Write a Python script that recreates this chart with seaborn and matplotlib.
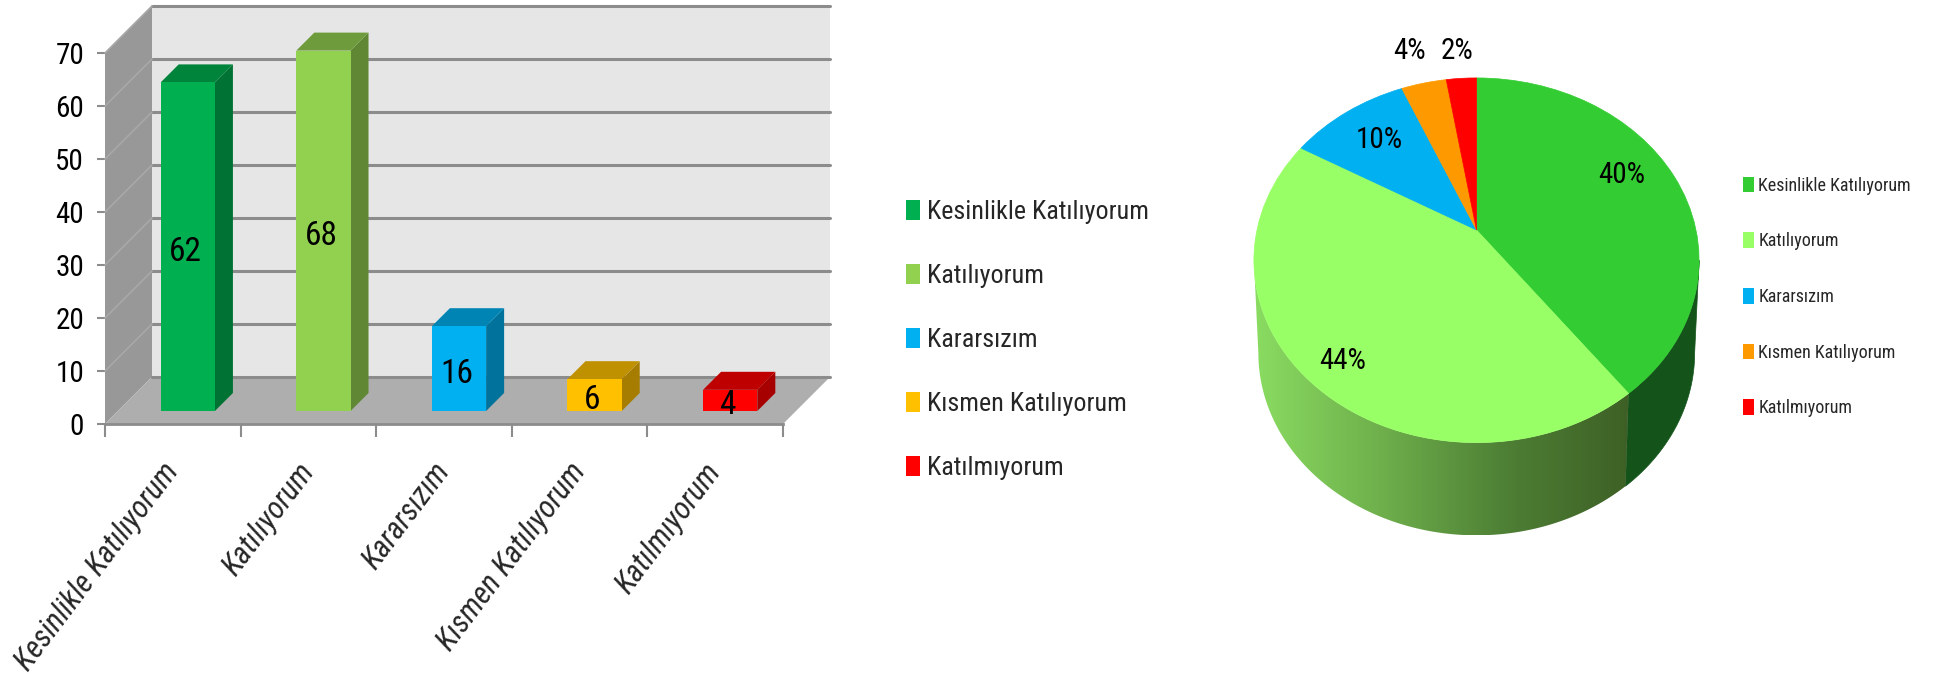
import matplotlib
matplotlib.use('Agg')
import matplotlib.pyplot as plt
import matplotlib.transforms as mtransforms
from matplotlib.colors import LinearSegmentedColormap, to_rgb
from matplotlib.patches import Patch, Polygon, Rectangle
import numpy as np
import pandas as pd
import seaborn as sns

categories = ['Kesinlikle Katılıyorum', 'Katılıyorum', 'Kararsızım', 'Kısmen Katılıyorum', 'Katılmıyorum']
counts = [62, 68, 16, 6, 4]
percents = [40, 44, 10, 4, 2]
y_ticks = [0, 10, 20, 30, 40, 50, 60, 70]
bar_colors = ['#00B050', '#92D050', '#00B0F0', '#FFC000', '#FF0000']
pie_colors = ['#33CC33', '#99FF66', '#00B0F0', '#FF9900', '#FF0000']

W, H = 1939, 690
FONT = ['Roboto Condensed', 'Liberation Sans']

sns.set_style('white')
plt.rcParams['font.family'] = FONT


def px_axes(fig, left, top, right, bottom):
    return fig.add_axes([left / W, 1 - bottom / H, (right - left) / W, (bottom - top) / H])


def shade(color, factor):
    return tuple(c * factor for c in to_rgb(color))


def shifted(ax, dx, dy):
    return ax.transData + mtransforms.Affine2D().translate(dx, dy)


class TiltTransform(mtransforms.Transform):
    # circle seen in perspective, the far side is a bit squeezed
    input_dims = 2
    output_dims = 2
    is_separable = False
    has_inverse = False

    def __init__(self, k):
        super().__init__()
        self.k = k

    def transform_non_affine(self, values):
        values = np.asarray(values, dtype=float)
        w = 1 + self.k * values[:, 1]
        return np.column_stack([values[:, 0] / w, values[:, 1] / w])


fig = plt.figure(figsize=(W / 100, H / 100), dpi=100)

# BAR CHART
ax = px_axes(fig, 105, 53, 783, 424)
df = pd.DataFrame({'category': categories, 'count': counts})
sns.barplot(data=df, x='category', y='count', hue='category', palette=bar_colors, order=categories,
            hue_order=categories, legend=False, width=0.4, saturation=1, linewidth=0, ax=ax, zorder=5)
ax.set_xlim(-0.5, 4.5)
ax.set_ylim(0, 70)
ax.set_xlabel('')
ax.set_ylabel('')

# walls and floor, depth of 47 px
depth = shifted(ax, 47, 47)
back = Rectangle((-0.5, 0), 5, 70, transform=depth, facecolor='#e6e6e6', edgecolor='none', clip_on=False, zorder=0)
ax.add_patch(back)
x0, x1 = -0.5, 4.5
px_x = 5 / 678
px_y = 70 / 371
side_wall = Polygon([(x0, 0), (x0 + 47 * px_x, 47 * px_y), (x0 + 47 * px_x, 70 + 47 * px_y), (x0, 70)],
                    facecolor='#989898', edgecolor='none', clip_on=False, zorder=1)
floor = Polygon([(x0, 0), (x1, 0), (x1 + 47 * px_x, 47 * px_y), (x0 + 47 * px_x, 47 * px_y)],
                facecolor='#aeaeae', edgecolor='none', clip_on=False, zorder=1)
ax.add_patch(side_wall)
ax.add_patch(floor)
for tick in y_ticks:
    ax.plot([x0, x1], [tick, tick], transform=depth, color='#8c8c8c', lw=2.2, clip_on=False, zorder=2)
    if tick > 0:
        ax.plot([x0, x0 + 47 * px_x], [tick, tick + 47 * px_y], color='#a8a8a8', lw=1.2, clip_on=False, zorder=2)

# bars with their side and top faces
bar_dx, bar_dy = 15, 13
bar_depth = 18
for i, patch in enumerate(ax.patches[:len(counts)]):
    color = bar_colors[i]
    px, pw, ph = patch.get_x(), patch.get_width(), patch.get_height()
    patch.set_transform(shifted(ax, bar_dx, bar_dy))
    patch.set_clip_on(False)
    dxd, dyd = bar_depth * px_x, bar_depth * px_y
    side = Polygon([(px + pw, 0), (px + pw + dxd, dyd), (px + pw + dxd, ph + dyd), (px + pw, ph)],
                   transform=shifted(ax, bar_dx, bar_dy), facecolor=shade(color, 0.65), edgecolor='none',
                   clip_on=False, zorder=4)
    top = Polygon([(px, ph), (px + pw, ph), (px + pw + dxd, ph + dyd), (px + dxd, ph + dyd)],
                  transform=shifted(ax, bar_dx, bar_dy), facecolor=shade(color, 0.75), edgecolor='none',
                  clip_on=False, zorder=4)
    ax.add_patch(side)
    ax.add_patch(top)
    ax.text(i, ph / 2, str(counts[i]), transform=shifted(ax, bar_dx - 2, bar_dy - 5), ha='center', va='center',
            fontsize=24, color='black', zorder=6)

for name in ['top', 'right']:
    ax.spines[name].set_visible(False)
ax.spines['left'].set_visible(False)
ax.spines['bottom'].set_color('#8c8c8c')
ax.spines['bottom'].set_linewidth(2)
ax.spines['bottom'].set_zorder(3)
ax.set_yticks(y_ticks)
ax.tick_params(axis='y', left=True, length=6, width=1.5, color='#8c8c8c', labelsize=21, pad=9, labelcolor='black')
ax.set_xticks(range(len(categories)))
ax.set_xticklabels(categories, rotation=53, ha='right', va='center', rotation_mode='anchor', style='italic', fontsize=22)
ax.tick_params(axis='x', which='major', bottom=False, pad=27)
ax.set_xticks(np.arange(-0.5, 5), minor=True)
ax.tick_params(axis='x', which='minor', bottom=True, length=9, width=1.5, color='#8c8c8c')

handles = [Patch(facecolor=c, edgecolor='none') for c in bar_colors]
fig.legend(handles, categories, loc='center left', bbox_to_anchor=(906 / W, 1 - 340 / H), frameon=False, fontsize=18.8,
           handlelength=0.55, handleheight=0.8, handletextpad=0.25, labelspacing=1.53, borderpad=0, borderaxespad=0)

# PIE CHART, slices from the counts, labels as printed on the chart
k = 0.166
rx, ry = 219.5, 177.3
cx, cy = 1476.5, 230
ax2 = px_axes(fig, cx - 1.3 * rx, cy - 1.3 * ry, cx + 1.3 * rx, cy + 1.9 * ry)
wedges, _ = ax2.pie(counts, colors=pie_colors, startangle=90, counterclock=False,
                    wedgeprops={'linewidth': 0.5}, radius=1)
tilt = TiltTransform(k)
for wedge, color in zip(wedges, pie_colors):
    wedge.set_edgecolor(color)
    wedge.set_transform(tilt + ax2.transData)
    wedge.set_zorder(3)

# side of the pie, only the part facing us
drop = 0.523
shrink = 0.98
edge = 2 * np.pi * counts[0] / sum(counts)
limit = np.arccos(-k)


def side_polygon(t_start, t_end):
    t = np.linspace(t_start, t_end, 120)
    w = 1 + k * np.cos(t)
    xs, ys = np.sin(t) / w, np.cos(t) / w
    return np.vstack([np.column_stack([xs, ys]), np.column_stack([xs * shrink, ys - drop])[::-1]])


ax2.add_patch(Polygon(side_polygon(limit, edge), facecolor='#14541A', edgecolor='#14541A', lw=0.5, zorder=1))
light_side = side_polygon(edge, 2 * np.pi - limit)
clip = Polygon(light_side, transform=ax2.transData, facecolor='none', edgecolor='none')
ax2.add_patch(clip)
cmap = LinearSegmentedColormap.from_list('side', ['#8ADC62', '#6FB04C', '#4E8035', '#3E6026'])
x_min, x_max = light_side[:, 0].min(), light_side[:, 0].max()
y_min, y_max = light_side[:, 1].min(), light_side[:, 1].max()
image = ax2.imshow(np.linspace(0, 1, 256)[None, :], extent=[x_min, x_max, y_min, y_max], aspect='auto', cmap=cmap,
                   zorder=1)
image.set_clip_path(clip)

ax2.set_aspect('auto')
ax2.set_xlim(-1.3, 1.3)
ax2.set_ylim(-1.9, 1.3)
ax2.axis('off')

label_spots = [(0.66, 0.31), (-0.61, -0.74), (-0.445, 0.51), (-0.304, 1.01), (-0.09, 1.01)]
for value, (lx, ly) in zip(percents, label_spots):
    ax2.text(lx, ly, f'{value}%', ha='center', va='center', fontsize=21, color='black', zorder=5, clip_on=False)

handles = [Patch(facecolor=c, edgecolor='none') for c in pie_colors]
fig.legend(handles, categories, loc='center left', bbox_to_anchor=(1743 / W, 1 - 297 / H), frameon=False, fontsize=13,
           handlelength=0.6, handleheight=0.95, handletextpad=0.25, labelspacing=2.08, borderpad=0, borderaxespad=0)

fig.savefig('out.png', dpi=100)
